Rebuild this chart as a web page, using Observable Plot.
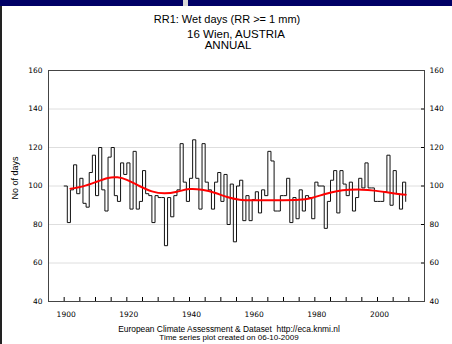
<!DOCTYPE html>
<html><head><meta charset="utf-8">
<script src="https://cdn.jsdelivr.net/npm/d3@7"></script>
<script src="https://cdn.jsdelivr.net/npm/@observablehq/plot@0.6"></script>
<style>
body{margin:0;background:#fff;}
#wrap{position:relative;width:452px;height:344px;overflow:hidden;font-family:"Liberation Sans",Arial,sans-serif;background:#fff;}
.band{position:absolute;left:0;top:0;width:452px;height:6px;background:#000066;z-index:3;}
.gap{position:absolute;left:183px;top:0;width:5px;height:6px;background:#d8d8d8;z-index:4;}
.lborder{position:absolute;left:0;top:0;width:2px;height:344px;background:#222;z-index:2;}
.t{position:absolute;white-space:nowrap;color:#000;line-height:10px;height:10px;z-index:2;}
.c{position:absolute;white-space:nowrap;color:#000;line-height:7px;height:7px;z-index:2;}
#chart{position:absolute;left:0;top:0;z-index:1;}
</style></head>
<body>
<div id="wrap">
  <div class="band"></div><div class="gap"></div><div class="lborder"></div>
  <div id="chart"></div>
  <div class="t" style="left:227px;top:14.2px;font-size:11px;transform:translateX(-50%);">RR1: Wet days (RR &gt;= 1 mm)</div>
  <div class="t" style="left:236px;top:28.5px;font-size:11.5px;transform:translateX(-50%);">16 Wien, AUSTRIA</div>
  <div class="t" style="left:228px;top:40px;font-size:11.5px;transform:translateX(-50%);">ANNUAL</div>
  <div class="t" style="left:15px;top:178px;font-size:9px;transform:translate(-50%,-50%) rotate(-90deg);">No of days</div>
  <div class="c" style="left:229px;top:325.6px;font-size:8.4px;transform:translateX(-50%);">European Climate Assessment &amp; Dataset&nbsp; http://eca.knmi.nl</div>
  <div class="c" style="left:229px;top:333.8px;font-size:8px;transform:translateX(-50%);">Time series plot created on 06-10-2009</div>
</div>
<script>
const firstYear = 1900;
const wetDays = [
  100, 81, 98, 111, 96, 104, 91, 89, 107, 116,
  95, 120, 98, 87, 115, 120, 95, 92, 112, 106,
  112, 88, 118, 88, 92, 108, 96, 95, 81, 95,
  94, 94, 69, 94, 84, 95, 98, 122, 102, 92,
  104, 124, 104, 88, 122, 102, 98, 88, 102, 107,
  92, 106, 80, 101, 71, 100, 103, 82, 95, 82,
  93, 97, 86, 98, 95, 118, 113, 87, 87, 95,
  95, 104, 81, 94, 83, 98, 87, 95, 94, 83,
  102, 100, 100, 78, 92, 103, 108, 86, 108, 101,
  95, 102, 87, 94, 104, 99, 112, 99, 99, 92,
  92, 92, 97, 116, 90, 108, 96, 88, 102, 92
];
const smoothYears  = [1902, 1906, 1910, 1914, 1917, 1920, 1924, 1928, 1932, 1936, 1940, 1944, 1948, 1952, 1956, 1960, 1965, 1970, 1975, 1979, 1983, 1987, 1991, 1995, 1999, 2003, 2006, 2009];
const smoothValues = [98.6, 99.8, 102.0, 104.2, 104.5, 103.2, 100.0, 97.2, 96.2, 97.0, 98.4, 98.0, 96.5, 94.3, 92.9, 92.6, 92.6, 92.6, 92.8, 93.8, 95.7, 97.3, 98.0, 98.1, 97.6, 96.7, 96.0, 95.5];
const yTicks = [40, 60, 80, 100, 120, 140, 160];
const gridTicks = [60, 80, 100, 120, 140];
const xMinorTicks = [1900, 1905, 1910, 1915, 1920, 1925, 1930, 1935, 1940, 1945, 1950, 1955, 1960, 1965, 1970, 1975, 1980, 1985, 1990, 1995, 2000, 2005, 2010];
const xLabelTicks = [1900, 1920, 1940, 1960, 1980, 2000];

const series = wetDays.map((v, i) => ({year: firstYear + i, value: v}));
const smooth = smoothYears.map((y, i) => ({year: y, value: smoothValues[i]}));

const chart = Plot.plot({
  width: 452, height: 344,
  marginTop: 70, marginRight: 28, marginBottom: 43, marginLeft: 48,
  style: {fontFamily: "'DejaVu Sans', sans-serif", fontSize: "7.5px", background: "transparent", color: "#000"},
  x: {domain: [1895, 2015]},
  y: {domain: [40, 160]},
  marks: [
    Plot.gridY(gridTicks, {stroke: "#dedede", strokeOpacity: 1}),
    Plot.axisY(yTicks, {anchor: "left", tickSize: 0, tickPadding: 6, label: null}),
    Plot.axisY(yTicks, {anchor: "right", tickSize: 4, dx: -4, tickPadding: 5, label: null}),
    Plot.axisX(xMinorTicks, {anchor: "bottom", tickSize: 4, dy: -4, tickFormat: () => "", label: null}),
    Plot.axisX(xLabelTicks, {anchor: "bottom", tickSize: 0, tickPadding: 10, dx: 2, tickFormat: d => String(d), label: null}),
    Plot.line(series, {x: "year", y: "value", curve: "step-after", stroke: "#111", strokeWidth: 1}),
    Plot.line(smooth, {x: "year", y: "value", curve: "natural", stroke: "#ff0000", strokeWidth: 2}),
    Plot.frame({stroke: "#444"})
  ]
});
document.getElementById("chart").appendChild(chart);
</script>
</body></html>
